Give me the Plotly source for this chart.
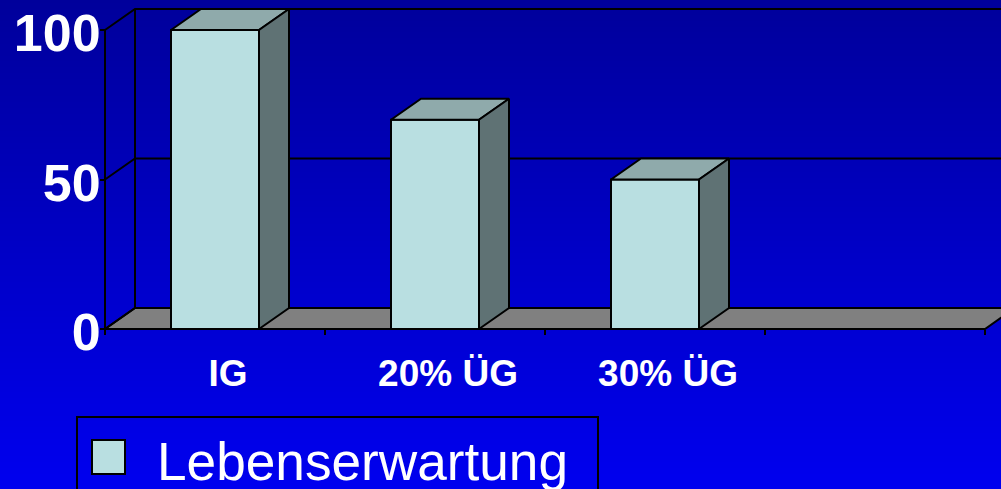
import plotly.graph_objects as go

categories = ["IG", "20% ÜG", "30% ÜG"]
values = [100, 70, 50]
series_name = "Lebenserwartung"
y_ticks = [0, 50, 100]
slot_edges = [-0.5, 0.5, 1.5, 2.5, 3.5]
gradient_rows = [0, 1]

FRONT = "#B9DFE1"
TOP = "#8FAAAB"
SIDE = "#5F7274"
FLOOR = "#808080"
LW = 2
FONT = "Liberation Sans"

# The legend box runs past the lower edge of the window, so the page is drawn taller and clipped.
W, H = 1001, 540
X_RANGE = [-215 / 220, 786 / 220]
Y_RANGE = [-(H - 329) / 2.99, 329 / 2.99]
DX = 30 / 220
DY = 21 / 2.99
BAR_W = 88 / 220


def poly(xs, ys, fill, xa="x2", ya="y2"):
    return go.Scatter(x=xs + xs[:1], y=ys + ys[:1], mode="lines", fill="toself", fillcolor=fill,
                      line=dict(color="black", width=LW), xaxis=xa, yaxis=ya,
                      showlegend=False, hoverinfo="skip")


def line(xs, ys):
    return go.Scatter(x=xs, y=ys, mode="lines", line=dict(color="black", width=LW),
                      xaxis="x2", yaxis="y2", showlegend=False, hoverinfo="skip")


fig = go.Figure()

# gradient background
fig.add_trace(go.Heatmap(z=[[r, r] for r in gradient_rows], x=[0, 1], y=[0, 1], zsmooth="best",
                         colorscale=[[0, "rgb(0,0,248)"], [1, "rgb(0,0,155)"]], showscale=False,
                         hoverinfo="skip", xaxis="x", yaxis="y"))

x0, x1 = slot_edges[0], slot_edges[-1]
# floor
fig.add_trace(poly([x0, x1, x1 + DX, x0 + DX], [0, 0, DY, DY], FLOOR))
# walls and gridlines
fig.add_trace(line([x0, x0], [0, y_ticks[-1]]))
fig.add_trace(line([x0 + DX, x0 + DX], [DY, y_ticks[-1] + DY]))
for t in y_ticks:
    fig.add_trace(line([x0, x0 + DX, X_RANGE[1]], [t, t + DY, t + DY]))

# bars: fronts from a bar trace, tops and sides derived from the same values
fig.add_trace(go.Bar(x=list(range(len(values))), y=values, width=BAR_W, marker=dict(color=FRONT, line=dict(color="black", width=LW)),
                     xaxis="x3", yaxis="y3", showlegend=False, hoverinfo="skip"))
for i, v in enumerate(values):
    l, r = i - BAR_W / 2, i + BAR_W / 2
    fig.add_trace(poly([l, r, r + DX, l + DX], [v, v, v + DY, v + DY], TOP, "x3", "y3"))
    fig.add_trace(poly([r, r + DX, r + DX, r], [0, DY, v + DY, v], SIDE, "x3", "y3"))

# legend entry (its swatch is drawn as a larger shape below, the legend caps marker size)
fig.add_trace(go.Scatter(x=[None], y=[None], mode="markers", name=series_name, xaxis="x3", yaxis="y3",
                         marker=dict(symbol="square", size=16, color="rgba(0,0,0,0)")))

hidden = dict(visible=False, fixedrange=True)
fig.update_layout(
    width=W, height=H, margin=dict(l=0, r=0, t=0, b=0),
    paper_bgcolor="rgb(0,0,200)", plot_bgcolor="rgba(0,0,0,0)", barmode="overlay",
    font=dict(family=FONT, color="white"),
    xaxis=dict(range=[0, 1], domain=[0, 1], **hidden),
    yaxis=dict(range=[0, 1], domain=[0, 1], **hidden),
    xaxis2=dict(range=X_RANGE, domain=[0, 1], anchor="free", position=(H - 329) / H, showgrid=False, zeroline=False,
                showline=False, tickmode="array", tickvals=list(range(len(categories))), ticktext=categories,
                ticks="outside", ticklen=12, tickcolor="rgba(0,0,0,0)", tickangle=0, ticklabelshift=13,
                tickfont=dict(size=37, family=FONT, color="white", weight="bold"),
                minor=dict(tickmode="array", tickvals=slot_edges, ticks="outside", ticklen=5, tickcolor="black", tickwidth=1.5, showgrid=False)),
    yaxis2=dict(range=Y_RANGE, domain=[0, 1], anchor="free", position=105 / W, showgrid=False, zeroline=False,
                showline=False, tickmode="array", tickvals=y_ticks, ticks="outside", ticklen=5, tickcolor="black", tickwidth=1.5,
                ticklabelstandoff=-11, ticklabelshift=3,
                tickfont=dict(size=52, family=FONT, color="white", weight="bold")),
    xaxis3=dict(range=X_RANGE, domain=[0, 1], anchor="y3", **hidden),
    yaxis3=dict(range=Y_RANGE, domain=[0, 1], anchor="x3", **hidden),
    showlegend=True,
    legend=dict(x=76 / W, y=(H - 416) / H, xanchor="left", yanchor="top", bgcolor="rgba(0,0,0,0)",
                bordercolor="black", borderwidth=LW, font=dict(size=53.2, family=FONT, color="white"),
                orientation="h", itemwidth=69, entrywidth=435, entrywidthmode="pixels"),
    shapes=[dict(type="rect", xref="paper", yref="paper", x0=92 / W, x1=125 / W,
                 y0=(H - 474) / H, y1=(H - 440) / H, fillcolor=FRONT,
                 line=dict(color="black", width=LW), layer="above")],
)

fig.write_html("out.html", config=dict(displayModeBar=False),
               post_script="document.body.style.margin='0';document.documentElement.style.overflow='hidden';document.body.style.overflow='hidden';")
